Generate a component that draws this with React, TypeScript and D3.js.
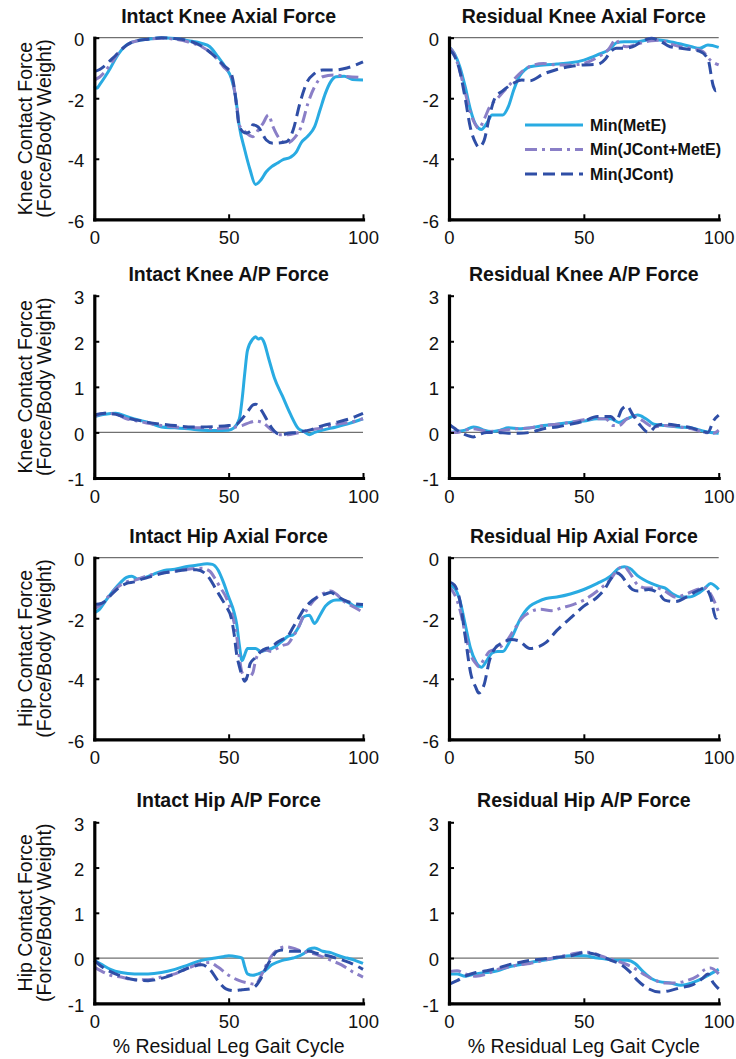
import React, { useEffect, useRef } from 'react';
import * as d3 from 'd3';

type Pt = [number, number];

// Intact knee axial force
const ikaMetE: Pt[] = [[0,-1.6],[1,-1.67],[2,-1.55],[4,-1.29],[6,-1.0],[8,-0.68],[10,-0.42],[12,-0.24],[14,-0.15],[16,-0.1],[20,-0.05],[25,0],[30,-0.03],[35,-0.1],[40,-0.19],[43,-0.3],[46,-0.63],[49,-1.0],[51,-1.34],[52.5,-1.9],[54,-2.94],[56,-3.71],[58,-4.37],[60,-4.85],[62,-4.7],[64,-4.43],[66,-4.26],[68,-4.15],[70,-4.04],[73,-3.95],[75,-3.8],[77,-3.47],[79.5,-3.25],[82,-2.94],[84,-2.39],[86,-1.84],[88,-1.45],[90,-1.29],[93,-1.27],[96,-1.38],[100,-1.4]];
const ikaJointMet: Pt[] = [[0,-1.4],[2,-1.3],[4,-1.12],[6,-0.88],[8,-0.62],[10,-0.4],[12,-0.25],[14,-0.15],[16,-0.1],[20,-0.05],[25,-0.02],[30,-0.05],[35,-0.14],[40,-0.3],[44,-0.55],[48,-0.95],[51,-1.3],[53,-2.2],[54,-2.9],[56,-3.1],[59,-3.27],[61,-3.05],[62.8,-2.83],[64.8,-2.55],[66.5,-2.94],[69,-3.35],[71.5,-3.49],[74.6,-3.3],[77,-2.94],[79.5,-2.17],[82,-1.62],[85,-1.29],[89,-1.23],[94,-1.28],[100,-1.32]];
const ikaJCont: Pt[] = [[0,-1.12],[2,-1.05],[4,-0.92],[6,-0.75],[8,-0.58],[10,-0.4],[12,-0.25],[14,-0.15],[16,-0.1],[20,-0.05],[25,0],[30,-0.03],[35,-0.1],[40,-0.28],[44,-0.55],[48,-0.9],[51,-1.2],[52,-1.6],[53,-2.3],[54,-2.95],[56.5,-3.15],[58,-3.1],[59,-2.88],[61,-2.95],[64,-3.38],[66.5,-3.49],[71.5,-3.44],[74,-3.05],[76.5,-2.17],[79,-1.5],[82,-1.18],[85,-1.07],[89,-1.07],[94,-1.0],[100,-0.8]];

// Residual knee axial force
const rkaMetE: Pt[] = [[0,-0.3],[2,-0.52],[4,-0.96],[6,-1.62],[8,-2.39],[10,-2.89],[12,-3.03],[14,-2.83],[16,-2.55],[18,-2.55],[20,-2.55],[22,-2.28],[24,-1.73],[26,-1.29],[28,-1.07],[30,-0.96],[35,-0.9],[40,-0.87],[45,-0.83],[50,-0.74],[55,-0.57],[60,-0.35],[62,-0.17],[65,-0.13],[70,-0.13],[75,-0.06],[80,-0.1],[85,-0.19],[90,-0.3],[93,-0.35],[96,-0.24],[100,-0.32]];
const rkaJointMet: Pt[] = [[0,-0.3],[2,-0.55],[4,-1.1],[6,-1.8],[8,-2.5],[10,-2.9],[11,-3.0],[13,-2.7],[15,-2.3],[18,-2.0],[22,-1.6],[26,-1.2],[30,-0.95],[35,-0.85],[40,-0.9],[45,-0.9],[50,-0.85],[55,-0.65],[59,-0.4],[62,-0.06],[63,-0.2],[66,-0.3],[70,-0.2],[75,-0.1],[78,-0.08],[82,-0.2],[86,-0.3],[90,-0.35],[94,-0.45],[97,-0.75],[100,-0.9]];
const rkaJCont: Pt[] = [[0,-0.4],[2,-0.6],[4,-1.1],[6,-2.0],[8,-3.0],[10,-3.5],[11,-3.62],[13,-3.4],[15,-2.6],[17,-2.0],[20,-1.75],[24,-1.5],[27,-1.4],[30,-1.42],[35,-1.2],[40,-1.05],[45,-0.95],[50,-0.9],[55,-0.88],[58,-0.7],[60,-0.45],[62,-0.35],[65,-0.35],[68,-0.3],[72,-0.1],[75,-0.02],[78,-0.1],[82,-0.3],[86,-0.35],[90,-0.4],[93,-0.45],[96,-0.7],[98,-1.6],[99,-1.75],[100,-1.6]];

// Intact knee A/P force
const ikpMetE: Pt[] = [[0,0.35],[4,0.4],[8,0.42],[12,0.35],[16,0.28],[20,0.22],[25,0.12],[30,0.1],[35,0.08],[40,0.05],[45,0.04],[50,0.05],[52,0.1],[54,0.3],[55,0.72],[56,1.3],[57,1.8],[59,2.05],[60,2.1],[61,2.05],[62,2.07],[63,2.0],[65,1.6],[67,1.2],[70,0.8],[73,0.4],[76,0.08],[78,0.02],[80,-0.05],[82,0.0],[85,0.05],[90,0.12],[95,0.2],[100,0.3]];
const ikpJointMet: Pt[] = [[0,0.35],[4,0.42],[8,0.4],[12,0.3],[16,0.25],[20,0.2],[25,0.15],[30,0.12],[35,0.1],[40,0.1],[45,0.08],[50,0.1],[55,0.15],[58,0.22],[60,0.25],[63,0.2],[66,0.05],[69,-0.05],[72,-0.05],[75,-0.02],[80,0.05],[85,0.1],[90,0.18],[95,0.22],[100,0.3]];
const ikpJCont: Pt[] = [[0,0.38],[4,0.42],[8,0.4],[12,0.32],[16,0.27],[20,0.22],[25,0.18],[30,0.15],[35,0.12],[40,0.12],[45,0.13],[50,0.15],[53,0.18],[55,0.3],[57,0.45],[59,0.6],[60,0.62],[62,0.5],[64,0.3],[66,0.1],[68,-0.02],[70,-0.05],[72,-0.02],[75,0.0],[80,0.05],[85,0.15],[90,0.22],[95,0.3],[100,0.42]];

// Residual knee A/P force
const rkpMetE: Pt[] = [[0,0.0],[3,0.02],[6,0.05],[9,0.12],[11,0.1],[13,0.05],[16,0.02],[19,0.05],[22,0.1],[26,0.08],[30,0.1],[35,0.15],[40,0.18],[45,0.22],[50,0.25],[55,0.3],[60,0.3],[63,0.22],[66,0.3],[70,0.38],[73,0.3],[76,0.18],[80,0.15],[85,0.12],[90,0.1],[95,0.02],[100,-0.02]];
const rkpJointMet: Pt[] = [[0,0.0],[3,0.0],[6,0.05],[9,0.08],[12,0.05],[15,0.02],[20,0.05],[25,0.08],[30,0.1],[35,0.15],[40,0.18],[45,0.22],[50,0.28],[55,0.3],[58,0.3],[61,0.15],[63,0.15],[66,0.3],[69,0.35],[72,0.25],[76,0.12],[80,0.15],[85,0.12],[90,0.08],[95,0.0],[98,-0.02],[100,0.05]];
const rkpJCont: Pt[] = [[0,0.18],[3,0.05],[6,-0.05],[9,-0.1],[11,-0.05],[14,0.0],[18,0.0],[22,-0.02],[26,-0.02],[30,0.0],[35,0.08],[40,0.12],[45,0.18],[50,0.25],[55,0.35],[60,0.35],[62,0.25],[64,0.5],[66,0.58],[68,0.4],[71,0.15],[74,0.0],[77,0.15],[80,0.18],[85,0.15],[90,0.1],[94,0.02],[96,0.0],[98,0.25],[100,0.38]];

// Intact hip axial force
const ihaMetE: Pt[] = [[0,-1.82],[2,-1.7],[4,-1.45],[7,-1.1],[10,-0.8],[12,-0.65],[14,-0.61],[16,-0.7],[19,-0.65],[22,-0.55],[26,-0.42],[30,-0.38],[34,-0.3],[38,-0.25],[42,-0.2],[44,-0.22],[46,-0.4],[48,-0.8],[50,-1.3],[52,-1.8],[53,-2.2],[54,-2.9],[55,-3.4],[56,-3.2],[57,-3.0],[58,-3.0],[60,-3.0],[62,-3.1],[64,-3.05],[66,-3.0],[68,-2.9],[70,-2.75],[72,-2.6],[74,-2.55],[76,-2.3],[78,-1.95],[80,-1.9],[82,-2.17],[84,-1.9],[86,-1.6],[88,-1.45],[90,-1.4],[92,-1.4],[95,-1.5],[97,-1.6],[100,-1.6]];
const ihaJointMet: Pt[] = [[0,-1.7],[3,-1.5],[6,-1.2],[9,-0.95],[12,-0.8],[15,-0.75],[18,-0.65],[22,-0.55],[26,-0.5],[30,-0.45],[35,-0.38],[40,-0.35],[43,-0.45],[45,-0.7],[47,-1.0],[49,-1.3],[51,-1.8],[53,-2.6],[54,-3.3],[55,-3.8],[57,-4.0],[59,-3.8],[60,-3.4],[62,-3.1],[64,-3.05],[66,-3.1],[68,-3.0],[70,-2.9],[72,-2.85],[74,-2.6],[76,-2.3],[78,-1.9],[80,-1.6],[83,-1.3],[86,-1.15],[88,-1.1],[90,-1.2],[93,-1.45],[96,-1.6],[100,-1.8]];
const ihaJCont: Pt[] = [[0,-1.55],[3,-1.5],[6,-1.25],[9,-1.0],[12,-0.85],[15,-0.8],[18,-0.7],[22,-0.6],[26,-0.5],[30,-0.45],[35,-0.4],[38,-0.4],[41,-0.5],[43,-0.7],[45,-1.0],[47,-1.3],[49,-1.6],[51,-2.0],[52,-2.5],[53,-3.2],[54,-3.6],[55,-3.9],[56,-4.08],[57,-3.9],[58,-3.5],[60,-3.3],[62,-3.1],[64,-3.0],[66,-2.95],[68,-2.8],[70,-2.7],[72,-2.6],[74,-2.3],[76,-2.0],[78,-1.7],[80,-1.5],[83,-1.3],[86,-1.2],[88,-1.15],[90,-1.25],[93,-1.4],[96,-1.5],[100,-1.55]];

// Residual hip axial force
const rhaMetE: Pt[] = [[0,-0.9],[2,-1.0],[4,-1.4],[6,-2.2],[8,-3.0],[10,-3.45],[12,-3.62],[14,-3.4],[16,-3.15],[18,-3.1],[20,-3.1],[22,-2.85],[24,-2.5],[26,-2.1],[28,-1.8],[30,-1.6],[33,-1.45],[36,-1.35],[40,-1.3],[45,-1.2],[50,-1.05],[55,-0.85],[60,-0.6],[63,-0.35],[65,-0.3],[67,-0.35],[70,-0.6],[75,-0.85],[78,-0.95],[80,-1.0],[83,-1.2],[86,-1.3],[89,-1.3],[92,-1.2],[95,-1.0],[97,-0.85],[100,-1.05]];
const rhaJointMet: Pt[] = [[0,-0.95],[2,-1.2],[4,-1.7],[6,-2.5],[8,-3.2],[10,-3.5],[11,-3.6],[13,-3.35],[15,-3.1],[18,-3.0],[21,-2.8],[24,-2.4],[27,-2.0],[30,-1.8],[34,-1.7],[38,-1.75],[42,-1.65],[46,-1.55],[50,-1.4],[55,-1.1],[60,-0.7],[63,-0.35],[65,-0.3],[67,-0.5],[70,-0.9],[73,-1.0],[77,-1.0],[80,-1.1],[84,-1.3],[88,-1.2],[92,-1.05],[95,-1.0],[97,-1.2],[100,-1.8]];
const rhaJCont: Pt[] = [[0,-0.8],[2,-0.9],[4,-1.4],[6,-2.6],[8,-3.8],[10,-4.3],[11,-4.47],[13,-4.2],[15,-3.4],[17,-3.0],[20,-2.8],[23,-2.7],[26,-2.75],[30,-3.0],[33,-2.95],[36,-2.8],[40,-2.4],[45,-2.0],[50,-1.6],[55,-1.3],[58,-1.0],[60,-0.7],[62,-0.5],[64,-0.6],[66,-0.85],[68,-1.05],[70,-1.1],[74,-1.05],[78,-1.2],[80,-1.4],[84,-1.45],[88,-1.3],[92,-1.1],[95,-1.0],[97,-1.3],[99,-2.0],[100,-1.8]];

// Intact hip A/P force
const ihpMetE: Pt[] = [[0,-0.05],[3,-0.15],[6,-0.25],[10,-0.32],[15,-0.35],[20,-0.35],[25,-0.32],[30,-0.25],[35,-0.15],[40,-0.05],[45,0.0],[48,0.03],[50,0.05],[53,0.03],[55,0.0],[56,-0.2],[57,-0.35],[59,-0.38],[61,-0.35],[63,-0.3],[66,-0.15],[70,-0.05],[74,0.0],[78,0.1],[80,0.2],[82,0.22],[85,0.15],[88,0.12],[91,0.05],[94,0.0],[97,-0.05],[100,-0.12]];
const ihpJointMet: Pt[] = [[0,-0.2],[3,-0.3],[6,-0.38],[10,-0.42],[15,-0.48],[20,-0.48],[25,-0.42],[30,-0.35],[35,-0.22],[40,-0.12],[43,-0.1],[46,-0.2],[50,-0.38],[54,-0.5],[57,-0.55],[60,-0.58],[62,-0.4],[64,-0.15],[66,0.05],[68,0.18],[71,0.25],[74,0.22],[77,0.15],[80,0.12],[84,0.05],[88,-0.05],[92,-0.15],[96,-0.3],[100,-0.42]];
const ihpJCont: Pt[] = [[0,-0.05],[3,-0.2],[6,-0.3],[10,-0.4],[15,-0.48],[20,-0.5],[25,-0.45],[30,-0.35],[35,-0.22],[40,-0.15],[43,-0.25],[46,-0.5],[49,-0.68],[52,-0.72],[55,-0.7],[58,-0.68],[60,-0.62],[62,-0.45],[64,-0.2],[66,0.0],[68,0.15],[70,0.18],[73,0.15],[76,0.15],[80,0.15],[83,0.1],[87,0.05],[91,-0.02],[95,-0.1],[100,-0.25]];

// Residual hip A/P force
const rhpMetE: Pt[] = [[0,-0.35],[3,-0.35],[6,-0.4],[10,-0.35],[14,-0.32],[18,-0.28],[22,-0.2],[26,-0.15],[30,-0.1],[35,-0.05],[40,0.0],[45,0.05],[50,0.05],[55,0.0],[58,-0.02],[62,-0.05],[66,-0.05],[69,-0.12],[72,-0.3],[75,-0.45],[78,-0.52],[82,-0.55],[86,-0.6],[90,-0.55],[94,-0.45],[97,-0.35],[100,-0.25]];
const rhpJointMet: Pt[] = [[0,-0.3],[3,-0.28],[6,-0.35],[10,-0.4],[14,-0.35],[18,-0.25],[22,-0.2],[26,-0.15],[30,-0.12],[35,-0.05],[40,0.02],[45,0.08],[50,0.13],[53,0.12],[56,0.05],[60,-0.02],[64,-0.1],[68,-0.2],[72,-0.35],[76,-0.48],[80,-0.55],[84,-0.55],[88,-0.5],[92,-0.4],[95,-0.25],[97,-0.22],[100,-0.35]];
const rhpJCont: Pt[] = [[0,-0.58],[3,-0.5],[6,-0.4],[10,-0.32],[14,-0.28],[18,-0.22],[22,-0.15],[26,-0.1],[30,-0.05],[35,-0.02],[40,0.02],[45,0.05],[50,0.12],[53,0.1],[56,0.05],[60,-0.05],[64,-0.15],[67,-0.3],[70,-0.5],[74,-0.68],[78,-0.75],[82,-0.72],[86,-0.65],[90,-0.6],[94,-0.45],[96,-0.35],[98,-0.55],[100,-0.68]];

const axialTicks = [0, -2, -4, -6];
const apTicks = [3, 2, 1, 0, -1];
const xTicks = [0, 50, 100];

const seriesNames = ['Min(MetE)', 'Min(JCont+MetE)', 'Min(JCont)'];
const seriesColors = ['#29abe2', '#8a7fc7', '#2f4ea6'];
const seriesDash = ['none', '12,5,3,5', '12,6'];

const titles = [
  'Intact Knee Axial Force', 'Residual Knee Axial Force',
  'Intact Knee A/P Force', 'Residual Knee A/P Force',
  'Intact Hip Axial Force', 'Residual Hip Axial Force',
  'Intact Hip A/P Force', 'Residual Hip A/P Force',
];
const panelSeries = [
  [ikaMetE, ikaJointMet, ikaJCont], [rkaMetE, rkaJointMet, rkaJCont],
  [ikpMetE, ikpJointMet, ikpJCont], [rkpMetE, rkpJointMet, rkpJCont],
  [ihaMetE, ihaJointMet, ihaJCont], [rhaMetE, rhaJointMet, rhaJCont],
  [ihpMetE, ihpJointMet, ihpJCont], [rhpMetE, rhpJointMet, rhpJCont],
];
const rowYLabels = ['Knee Contact Force', 'Knee Contact Force', 'Hip Contact Force', 'Hip Contact Force'];
const xLabel = '% Residual Leg Gait Cycle';

// layout
const colX = [[94.3, 363], [449, 718.7]];
const rowY = [[37.7, 219.3], [295.7, 478], [557.7, 739.3], [822.3, 1003.3]];
const font = '"Liberation Sans", Arial, Helvetica, sans-serif';

const App = () => {
  const ref = useRef<SVGSVGElement>(null);

  useEffect(() => {
    const svg = d3.select(ref.current);
    svg.selectAll('*').remove();

    titles.forEach((title, i) => {
      const row = Math.floor(i / 2);
      const col = i % 2;
      const axial = row % 2 === 0;
      const [x0, x1] = colX[col];
      const [top, bottom] = rowY[row];
      const yTicks = axial ? axialTicks : apTicks;

      const x = d3.scaleLinear().domain([0, 100]).range([x0, x1]);
      const y = d3
        .scaleLinear()
        .domain(axial ? [-6, 0] : [-1, 3])
        .range([bottom, top]);

      const g = svg.append('g');

      // zero reference line
      g.append('line')
        .attr('x1', x(0))
        .attr('x2', x(100))
        .attr('y1', y(0))
        .attr('y2', y(0))
        .attr('stroke', '#707070')
        .attr('stroke-width', 1.3);

      const line = d3
        .line<Pt>()
        .x(d => x(d[0]))
        .y(d => y(d[1]))
        .curve(d3.curveMonotoneX);

      panelSeries[i].forEach((s, k) => {
        g.append('path')
          .datum(s)
          .attr('d', line)
          .attr('fill', 'none')
          .attr('stroke', seriesColors[k])
          .attr('stroke-width', 3)
          .attr('stroke-dasharray', seriesDash[k])
          .attr('stroke-linejoin', 'round');
      });

      const yAxis = g
        .append('g')
        .attr('transform', 'translate(' + x0 + ',0)')
        .call(
          d3
            .axisLeft(y)
            .tickValues(yTicks)
            .tickSizeInner(-5)
            .tickSizeOuter(0)
            .tickPadding(10)
            .tickFormat(d => String(d))
        );
      const xAxis = g
        .append('g')
        .attr('transform', 'translate(0,' + bottom + ')')
        .call(
          d3
            .axisBottom(x)
            .tickValues(xTicks)
            .tickSizeInner(-5)
            .tickSizeOuter(0)
            .tickPadding(12)
            .tickFormat(d => String(d))
        );
      [yAxis, xAxis].forEach(a => {
        a.select('.domain')
          .attr('stroke', '#000')
          .attr('stroke-width', 3.2)
          .attr('stroke-linecap', 'square');
        a.selectAll('.tick line').attr('stroke', '#000').attr('stroke-width', 2);
        a.selectAll('.tick text')
          .attr('fill', '#111')
          .style('font-family', font)
          .style('font-size', '18.5px');
      });
      yAxis.selectAll('.tick text').attr('dy', '0.42em');

      svg.append('text')
        .attr('x', (x0 + x1) / 2)
        .attr('y', top - 15)
        .attr('text-anchor', 'middle')
        .style('font-family', font)
        .style('font-weight', 'bold')
        .style('font-size', '19.5px')
        .attr('fill', '#111')
        .text(title);

      if (col === 0) {
        const cy = (top + bottom) / 2;
        const lab = svg
          .append('text')
          .attr('transform', 'translate(0,' + cy + ') rotate(-90)')
          .attr('text-anchor', 'middle')
          .style('font-family', font)
          .style('font-size', '19.5px')
          .attr('fill', '#111');
        lab.append('tspan').attr('x', 0).attr('y', 32).text(rowYLabels[row]);
        lab.append('tspan').attr('x', 0).attr('y', 51).text('(Force/Body Weight)');
      }

      if (row === 3) {
        svg.append('text')
          .attr('x', (x0 + x1) / 2)
          .attr('y', 1053)
          .attr('text-anchor', 'middle')
          .style('font-family', font)
          .style('font-size', '19.5px')
          .attr('fill', '#111')
          .text(xLabel);
      }

      if (i === 1) {
        const leg = svg.append('g');
        seriesNames.forEach((name, k) => {
          const ly = 125 + k * 24.5;
          leg.append('line')
            .attr('x1', 525)
            .attr('x2', 583)
            .attr('y1', ly)
            .attr('y2', ly)
            .attr('stroke', seriesColors[k])
            .attr('stroke-width', 3)
            .attr('stroke-dasharray', seriesDash[k]);
          leg.append('text')
            .attr('x', 590)
            .attr('y', ly + 5.5)
            .style('font-family', font)
            .style('font-weight', 'bold')
            .style('font-size', '16px')
            .attr('fill', '#111')
            .text(name);
        });
      }
    });
  }, []);

  return (
    <svg
      ref={ref}
      width={736}
      height={1059}
      style={{ position: 'absolute', left: 0, top: 0, background: '#fff' }}
    ></svg>
  );
};

export default App;
